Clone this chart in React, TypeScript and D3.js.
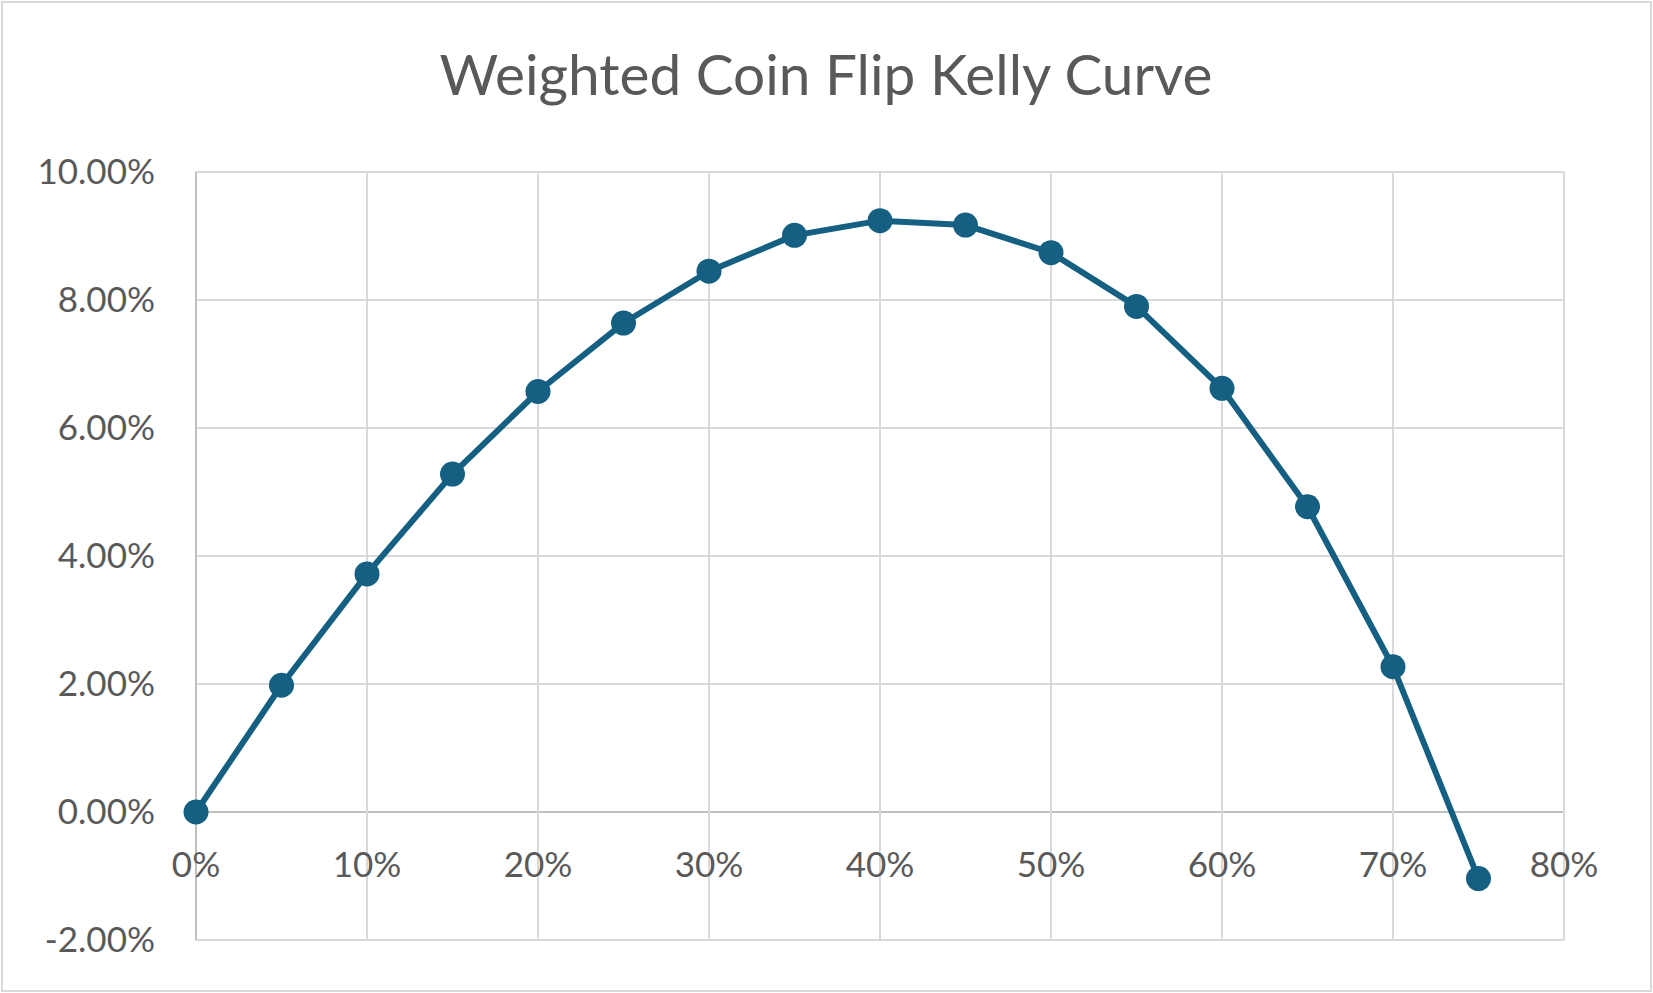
import React, { useEffect, useRef } from 'react';
import * as d3 from 'd3';

// bet fraction (x) and growth rate in percent (y)
const betFractions = [0, 0.05, 0.1, 0.15, 0.2, 0.25, 0.3, 0.35, 0.4, 0.45, 0.5, 0.55, 0.6, 0.65, 0.7, 0.75];
const growthPct = [0, 1.98, 3.72, 5.28, 6.57, 7.64, 8.45, 9.01, 9.24, 9.17, 8.74, 7.9, 6.62, 4.77, 2.27, -1.04];

const xTicks = [0, 0.1, 0.2, 0.3, 0.4, 0.5, 0.6, 0.7, 0.8];
const yTicks = [-2, 0, 2, 4, 6, 8, 10];

const TITLE = 'Weighted Coin Flip Kelly Curve';

const WIDTH = 1653;
const HEIGHT = 993;
const margin = { top: 172, right: 89, bottom: 53, left: 196 };

const LINE_COLOR = '#156082';
const TEXT_COLOR = '#595959';
const FONT = 'Lato, "Open Sans", sans-serif';

const App: React.FC = () => {
  const ref = useRef<SVGSVGElement>(null);

  useEffect(() => {
    if (!ref.current) return;
    const root = d3.select(ref.current);
    root.selectAll('*').remove();

    const innerW = WIDTH - margin.left - margin.right;
    const innerH = HEIGHT - margin.top - margin.bottom;

    // chart border
    root.append('rect')
      .attr('x', 2)
      .attr('y', 2)
      .attr('width', WIDTH - 4)
      .attr('height', HEIGHT - 4)
      .attr('fill', '#fff')
      .attr('stroke', '#d9d9d9')
      .attr('stroke-width', 2);

    root.append('text')
      .attr('x', 826)
      .attr('y', 95)
      .attr('text-anchor', 'middle')
      .attr('font-family', FONT)
      .attr('font-size', 57)
      .attr('fill', TEXT_COLOR)
      .attr('textLength', 773)
      .attr('lengthAdjust', 'spacingAndGlyphs')
      .text(TITLE);

    const g = root.append('g').attr('transform', `translate(${margin.left},${margin.top})`);

    const x = d3.scaleLinear().domain([0, 0.8]).range([0, innerW]);
    const y = d3.scaleLinear().domain([-2, 10]).range([innerH, 0]);

    // gridlines
    g.append('g')
      .selectAll('line')
      .data(yTicks)
      .join('line')
      .attr('x1', 0)
      .attr('x2', innerW)
      .attr('y1', d => y(d))
      .attr('y2', d => y(d))
      .attr('stroke', d => (d === 0 ? '#bfbfbf' : '#d9d9d9'))
      .attr('stroke-width', 2);

    g.append('g')
      .selectAll('line')
      .data(xTicks)
      .join('line')
      .attr('x1', d => x(d))
      .attr('x2', d => x(d))
      .attr('y1', 0)
      .attr('y2', innerH)
      .attr('stroke', d => (d === 0 ? '#bfbfbf' : '#d9d9d9'))
      .attr('stroke-width', 2);

    // y labels
    g.append('g')
      .selectAll('text')
      .data(yTicks)
      .join('text')
      .attr('x', -41)
      .attr('y', d => y(d))
      .attr('dy', '0.35em')
      .attr('text-anchor', 'end')
      .attr('font-family', FONT)
      .attr('font-size', 35)
      .attr('fill', TEXT_COLOR)
      .text(d => `${d.toFixed(2)}%`);

    // x labels sit under the zero line
    g.append('g')
      .selectAll('text')
      .data(xTicks)
      .join('text')
      .attr('x', d => x(d))
      .attr('y', y(0) + 65)
      .attr('text-anchor', 'middle')
      .attr('font-family', FONT)
      .attr('font-size', 35)
      .attr('fill', TEXT_COLOR)
      .text(d => d3.format('.0%')(d));

    const points = betFractions.map((f, i) => ({ f, v: growthPct[i] }));

    const line = d3.line<{ f: number; v: number }>()
      .x(d => x(d.f))
      .y(d => y(d.v));

    g.append('path')
      .datum(points)
      .attr('fill', 'none')
      .attr('stroke', LINE_COLOR)
      .attr('stroke-width', 6)
      .attr('stroke-linejoin', 'round')
      .attr('d', line);

    g.selectAll('.dot')
      .data(points)
      .join('circle')
      .attr('class', 'dot')
      .attr('cx', d => x(d.f))
      .attr('cy', d => y(d.v))
      .attr('r', 12.5)
      .attr('fill', LINE_COLOR);
  }, []);

  return (
    <svg
      ref={ref}
      width={WIDTH}
      height={HEIGHT}
      style={{ position: 'absolute', left: 0, top: 0, display: 'block' }}
    />
  );
};

export default App;
